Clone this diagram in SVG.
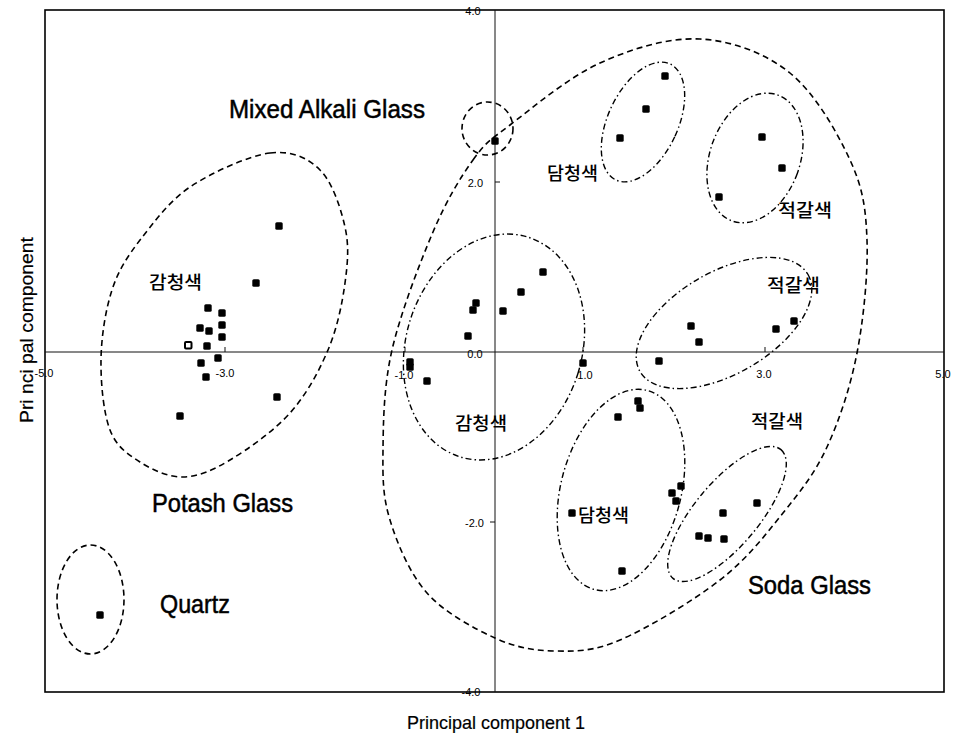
<svg xmlns="http://www.w3.org/2000/svg" width="954" height="738" viewBox="0 0 954 738">
<style>
.frame{fill:none;stroke:#000;stroke-width:1.6}
.axis{stroke:#111;stroke-width:1;fill:none}
.tl{font-family:"Liberation Sans",Arial,sans-serif;font-size:11px;fill:#000}
.big{font-family:"Liberation Sans",Arial,sans-serif;font-size:25px;fill:#000;stroke:#000;stroke-width:0.5}
.ttl{font-family:"Liberation Sans",Arial,sans-serif;font-size:19px;fill:#000;stroke:#000;stroke-width:0.2}
.kr{font-family:"Noto Sans CJK KR",sans-serif;font-size:18px;font-weight:500;fill:#000}
.dash{fill:none;stroke:#000;stroke-width:1.6;stroke-dasharray:6 4}
.dd{fill:none;stroke:#000;stroke-width:1.4;stroke-dasharray:6 3 1.5 3}
</style>
<defs>
<rect id="sq" x="-3.7" y="-3.7" width="7.4" height="7.4" rx="1.5"/>
</defs>
<rect width="954" height="738" fill="#fff"/>

<g id="axes">
<rect class="frame" x="45" y="10" width="899" height="682"/>
<line class="axis" x1="45" y1="352" x2="944" y2="352"/>
<line class="axis" x1="495" y1="10" x2="495" y2="692"/>
<path class="axis" d="M225 352V347M405 352V347M583 352V347M765 352V347M495 182H500M495 522H490"/>
<text class="tl" x="44" y="377" text-anchor="middle">-5.0</text>
<text class="tl" x="225" y="377" text-anchor="middle">-3.0</text>
<text class="tl" x="404" y="379" text-anchor="middle">-1.0</text>
<text class="tl" x="585" y="379" text-anchor="middle">1.0</text>
<text class="tl" x="764" y="378" text-anchor="middle">3.0</text>
<text class="tl" x="943" y="378" text-anchor="middle">5.0</text>
<text class="tl" x="473" y="15" text-anchor="middle">4.0</text>
<text class="tl" x="483" y="187" text-anchor="end">2.0</text>
<text class="tl" x="475" y="358" text-anchor="middle">0.0</text>
<text class="tl" x="484" y="527" text-anchor="end">-2.0</text>
<text class="tl" x="471" y="696" text-anchor="middle">-4.0</text>
<text class="ttl" x="496" y="729" text-anchor="middle" textLength="178" lengthAdjust="spacingAndGlyphs">Principal component 1</text>
<text class="ttl" transform="translate(33,330) rotate(-90)" text-anchor="middle" textLength="186" lengthAdjust="spacingAndGlyphs">Pri nci pal component</text>
</g>

<g id="potash-glass">
<path class="dash" d="M270 153C291.7 150.2 307.5 157.7 320 170C332.5 182.3 340.8 208.2 345 227C349.2 245.8 347.8 262.5 345 283C342.2 303.5 337.2 328.3 328 350C318.8 371.7 306.3 394.7 290 413C273.7 431.3 247.8 449.3 230 460C212.2 470.7 198 476.7 183 477C168 477.3 152.2 469.8 140 462C127.8 454.2 116.5 447 110 430C103.5 413 100.7 383.3 101 360C101.3 336.7 105.5 310 112 290C118.5 270 127 257.2 140 240C153 223.8 168.3 201.5 190 187C211.7 172.5 248.3 155.8 270 153Z"/>
<text class="big" x="152" y="512" textLength="141" lengthAdjust="spacingAndGlyphs">Potash Glass</text>
<text class="kr" x="149" y="289" textLength="53" lengthAdjust="spacingAndGlyphs">감청색</text>
<use href="#sq" x="279" y="226"/><use href="#sq" x="256" y="283"/><use href="#sq" x="208" y="308"/>
<use href="#sq" x="222" y="313"/><use href="#sq" x="200" y="328"/><use href="#sq" x="209" y="331"/>
<use href="#sq" x="222" y="325"/><use href="#sq" x="222" y="337"/><use href="#sq" x="207" y="346"/>
<use href="#sq" x="218" y="358"/><use href="#sq" x="201" y="363"/><use href="#sq" x="206" y="377"/>
<use href="#sq" x="277" y="397"/><use href="#sq" x="180" y="416"/>
<rect x="185" y="342" width="6.5" height="6.5" rx="1" fill="#fff" stroke="#000" stroke-width="2"/>
</g>

<g id="quartz">
<ellipse class="dash" cx="90.5" cy="599.5" rx="33.5" ry="54.5"/>
<use href="#sq" x="100" y="615"/>
<text class="big" x="160" y="613" textLength="70" lengthAdjust="spacingAndGlyphs">Quartz</text>
</g>

<g id="mixed-alkali-glass">
<ellipse class="dash" cx="487.5" cy="128.5" rx="25.5" ry="26.5"/>
<use href="#sq" x="495" y="141"/>
<text class="big" x="229" y="118" textLength="196" lengthAdjust="spacingAndGlyphs">Mixed Alkali Glass</text>
</g>

<g id="soda-glass">
<path class="dash" d="M473 160C485.8 142.2 488.8 141.2 510 125C531.2 108.8 568.3 77.3 600 63C631.7 48.7 668.3 37.3 700 39C731.7 40.7 765 52.8 790 73C815 93.2 837.2 132.2 850 160C862.8 187.8 865.8 207.8 867 240C868.2 272.2 863.7 318.5 857 353C850.3 387.5 839.3 420.3 827 447C814.7 473.7 800.8 490.8 783 513C765.2 535.2 747.2 558.8 720 580C692.8 601.2 647.5 628.2 620 640C592.5 651.8 575.8 651.3 555 651C534.2 650.7 516.3 647.7 495 638C473.7 628.3 444.5 612.7 427 593C409.5 573.3 397.3 543.8 390 520C382.7 496.2 382.7 478.3 383 450C383.3 421.7 383.7 386.3 392 350C400.3 313.7 419.5 263.7 433 232C446.5 200.3 460.2 177.8 473 160Z"/>
<text class="big" x="748" y="594" textLength="123" lengthAdjust="spacingAndGlyphs">Soda Glass</text>
</g>

<g id="upper-blue">
<ellipse class="dd" cx="643" cy="122" rx="35" ry="64" transform="rotate(25 643 122)"/>
<use href="#sq" x="620" y="138"/><use href="#sq" x="646" y="109"/><use href="#sq" x="665" y="76"/>
<text class="kr" x="547" y="180" textLength="51" lengthAdjust="spacingAndGlyphs">담청색</text>
</g>

<g id="upper-red">
<ellipse class="dd" cx="755" cy="158" rx="45" ry="67" transform="rotate(20 755 158)"/>
<use href="#sq" x="762" y="137"/><use href="#sq" x="782" y="168"/><use href="#sq" x="719" y="197"/>
<text class="kr" x="778" y="217" textLength="54" lengthAdjust="spacingAndGlyphs">적갈색</text>
</g>

<g id="middle-blue">
<ellipse class="dd" cx="494" cy="347" rx="88" ry="115" transform="rotate(17 494 347)"/>
<use href="#sq" x="543" y="272"/><use href="#sq" x="521" y="292"/><use href="#sq" x="476" y="303"/>
<use href="#sq" x="473" y="310"/><use href="#sq" x="503" y="311"/><use href="#sq" x="468" y="336"/>
<use href="#sq" x="410" y="362"/><use href="#sq" x="410" y="367"/><use href="#sq" x="427" y="381"/>
<use href="#sq" x="583" y="363"/>
<text class="kr" x="455" y="430" textLength="52" lengthAdjust="spacingAndGlyphs">감청색</text>
</g>

<g id="middle-red">
<ellipse class="dd" cx="724" cy="323" rx="97" ry="51" transform="rotate(-30 724 323)"/>
<use href="#sq" x="659" y="361"/><use href="#sq" x="691" y="326"/><use href="#sq" x="699" y="342"/>
<use href="#sq" x="776" y="329"/><use href="#sq" x="794" y="321"/>
<text class="kr" x="767" y="292" textLength="53" lengthAdjust="spacingAndGlyphs">적갈색</text>
</g>

<g id="lower-blue">
<ellipse class="dd" cx="621" cy="490" rx="60" ry="103" transform="rotate(15 621 490)"/>
<use href="#sq" x="638" y="401"/><use href="#sq" x="640" y="408"/><use href="#sq" x="618" y="417"/>
<use href="#sq" x="681" y="486"/><use href="#sq" x="672" y="493"/><use href="#sq" x="676" y="501"/>
<use href="#sq" x="572" y="513"/><use href="#sq" x="622" y="571"/>
<text class="kr" x="578" y="522" textLength="51" lengthAdjust="spacingAndGlyphs">담청색</text>
</g>

<g id="lower-red">
<ellipse class="dd" cx="727" cy="514" rx="84" ry="32" transform="rotate(-50 727 514)"/>
<use href="#sq" x="757" y="503"/><use href="#sq" x="723" y="513"/><use href="#sq" x="699" y="536"/>
<use href="#sq" x="708" y="538"/><use href="#sq" x="724" y="539"/>
<text class="kr" x="751" y="428" textLength="52" lengthAdjust="spacingAndGlyphs">적갈색</text>
</g>
</svg>
